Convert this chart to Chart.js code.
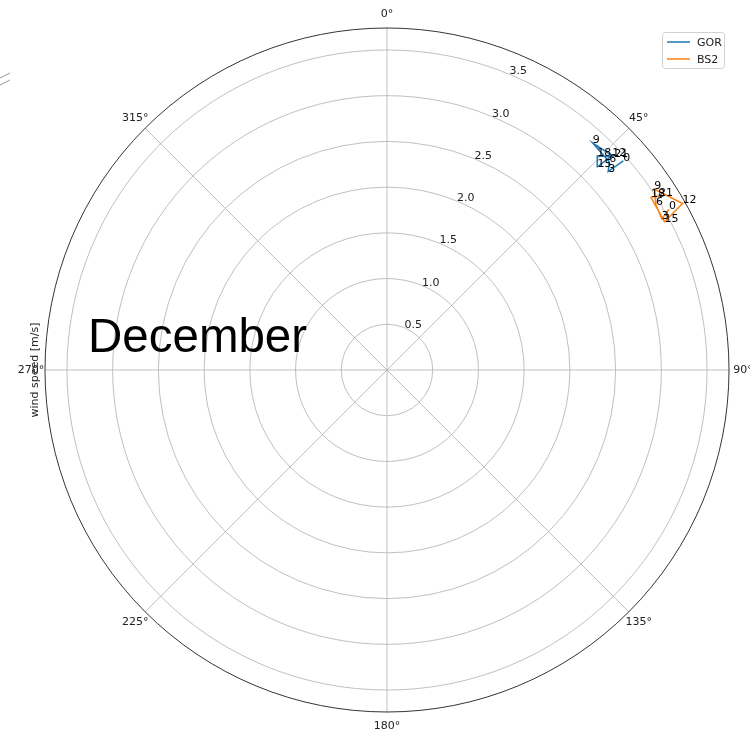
<!DOCTYPE html>
<html>
<head>
<meta charset="utf-8">
<script src="https://cdn.jsdelivr.net/npm/chart.js@4/dist/chart.umd.min.js"></script>
<style>
  html, body { margin: 0; padding: 0; background: #fff; }
  canvas { display: block; }
</style>
</head>
<body>
<canvas id="c" width="750" height="733"></canvas>
<script>
// Hour of day attached to each observation
const hours = [0, 3, 6, 9, 12, 15, 18, 21];

// Mean wind direction (degrees, clockwise from north) and speed (m/s)
const gorDirection = [48.5, 48.1, 46.9, 42.2, 46.4, 46.0, 44.5, 46.8];
const gorSpeed     = [3.45, 3.25, 3.33, 3.35, 3.40, 3.20, 3.28, 3.41];

const bs2Direction = [60.3, 61.2, 58.5, 55.9, 60.6, 61.9, 56.8, 57.4];
const bs2Speed     = [3.55, 3.43, 3.45, 3.53, 3.71, 3.44, 3.45, 3.53];

// Radial axis
const radialTicks = [0.5, 1.0, 1.5, 2.0, 2.5, 3.0, 3.5];
const radialMax = 3.74;
const angleTicks = [0, 45, 90, 135, 180, 225, 270, 315];

const seriesNames = ['GOR', 'BS2'];
const seriesColors = ['#1f77b4', '#ff7f0e'];

const toXY = (dirs, speeds) => dirs.map((d, i) => {
  const a = d * Math.PI / 180;
  return { x: speeds[i] * Math.sin(a), y: speeds[i] * Math.cos(a), hour: hours[i] };
});

const tickFont = '11px "DejaVu Sans", sans-serif';

// Polar frame: rings, spokes, outer circle and tick labels
const polarFrame = {
  id: 'polarFrame',
  beforeDatasetsDraw(chart) {
    const { ctx, scales: { x, y } } = chart;
    const cx = x.getPixelForValue(0), cy = y.getPixelForValue(0);
    const R = x.getPixelForValue(radialMax) - cx;
    const rp = v => x.getPixelForValue(v) - cx;
    ctx.save();
    ctx.strokeStyle = '#b0b0b0';
    ctx.lineWidth = 0.8;
    radialTicks.forEach(v => {
      ctx.beginPath();
      ctx.arc(cx, cy, rp(v), 0, Math.PI * 2);
      ctx.stroke();
    });
    angleTicks.forEach(d => {
      const a = d * Math.PI / 180;
      ctx.beginPath();
      ctx.moveTo(cx, cy);
      ctx.lineTo(cx + R * Math.sin(a), cy - R * Math.cos(a));
      ctx.stroke();
    });
    ctx.strokeStyle = '#000';
    ctx.lineWidth = 0.8;
    ctx.beginPath();
    ctx.arc(cx, cy, R, 0, Math.PI * 2);
    ctx.stroke();

    ctx.fillStyle = '#222';
    ctx.font = tickFont;
    ctx.textAlign = 'center';
    ctx.textBaseline = 'middle';
    angleTicks.forEach(d => {
      const a = d * Math.PI / 180;
      const lr = R + 14;
      ctx.fillText(d + '°', cx + lr * Math.sin(a), cy - lr * Math.cos(a));
    });
    ctx.textAlign = 'left';
    ctx.textBaseline = 'alphabetic';
    const la = 22.5 * Math.PI / 180;
    radialTicks.forEach(v => {
      const r = rp(v);
      ctx.fillText(v.toFixed(1), cx + r * Math.sin(la), cy - r * Math.cos(la));
    });

    // axis title
    ctx.save();
    ctx.translate(35, cy);
    ctx.rotate(-Math.PI / 2);
    ctx.textAlign = 'center';
    ctx.textBaseline = 'middle';
    ctx.fillText('wind speed [m/s]', 0, 0);
    ctx.restore();

    // edge of the neighbouring panel
    ctx.strokeStyle = '#999';
    ctx.lineWidth = 1;
    ctx.beginPath();
    ctx.moveTo(0, 78); ctx.lineTo(10, 73);
    ctx.moveTo(0, 85); ctx.lineTo(10, 80);
    ctx.stroke();
    ctx.restore();
  },
  afterDatasetsDraw(chart) {
    const { ctx } = chart;
    ctx.save();
    // hour annotations at each point
    ctx.fillStyle = '#000';
    ctx.font = tickFont;
    ctx.textAlign = 'left';
    ctx.textBaseline = 'alphabetic';
    chart.data.datasets.forEach((ds, di) => {
      const meta = chart.getDatasetMeta(di);
      meta.data.forEach((el, i) => {
        ctx.fillText(String(ds.data[i].hour), el.x, el.y);
      });
    });

    // title text
    ctx.font = '47.5px "Liberation Sans", Arial, sans-serif';
    ctx.fillText('December', 88, 352);

    // legend
    const lx = 662, ly = 32, lw = 62, lh = 36;
    ctx.fillStyle = 'rgba(255,255,255,0.8)';
    ctx.strokeStyle = '#d0d0d0';
    ctx.lineWidth = 1;
    ctx.beginPath();
    ctx.roundRect(lx + 0.5, ly + 0.5, lw, lh, 3);
    ctx.fill();
    ctx.stroke();
    ctx.font = tickFont;
    ctx.textBaseline = 'middle';
    seriesNames.forEach((n, i) => {
      const yy = ly + 10 + i * 17;
      ctx.strokeStyle = seriesColors[i];
      ctx.lineWidth = 1.5;
      ctx.beginPath();
      ctx.moveTo(lx + 5, yy);
      ctx.lineTo(lx + 28, yy);
      ctx.stroke();
      ctx.fillStyle = '#222';
      ctx.fillText(n, lx + 35, yy + 1);
    });
    ctx.restore();
  }
};

new Chart(document.getElementById('c'), {
  type: 'scatter',
  data: {
    datasets: [
      { label: seriesNames[0], data: toXY(gorDirection, gorSpeed), borderColor: seriesColors[0],
        backgroundColor: seriesColors[0], showLine: true, pointRadius: 0, borderWidth: 1.5 },
      { label: seriesNames[1], data: toXY(bs2Direction, bs2Speed), borderColor: seriesColors[1],
        backgroundColor: seriesColors[1], showLine: true, pointRadius: 0, borderWidth: 1.5 }
    ]
  },
  options: {
    responsive: false,
    animation: false,
    layout: { padding: { left: 45, right: 21, top: 28, bottom: 21 } },
    scales: {
      x: { display: false, min: -radialMax, max: radialMax },
      y: { display: false, min: -radialMax, max: radialMax }
    },
    plugins: { legend: { display: false }, tooltip: { enabled: false } }
  },
  plugins: [polarFrame]
});
</script>
</body>
</html>
